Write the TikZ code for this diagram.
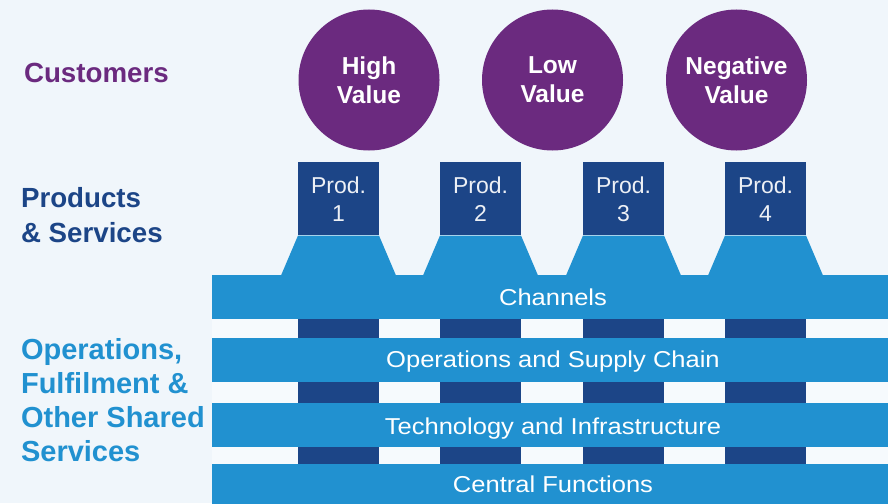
\documentclass[tikz,border=0pt]{standalone}
\usepackage{fontspec}
\setmainfont{Liberation Sans}
\newfontfamily\widefont[FakeStretch=1.11]{Liberation Sans}
\begin{document}
\begin{tikzpicture}[x=1pt,y=-1pt,
  circ/.style={circle,fill=purp,minimum size=141pt,inner sep=0pt,text=white,font=\fontsize{24.5}{29}\selectfont\bfseries,align=center},
  prodbox/.style={fill=dblue,draw=none,minimum width=81pt,minimum height=73pt,inner sep=0pt,anchor=north west},
  prodtxt/.style={text=white!92!dblue,font=\fontsize{23}{28}\selectfont,align=center,anchor=base},
  bar/.style={fill=lblue,draw=none,minimum width=676pt,inner sep=0pt,anchor=north west},
  bartxt/.style={text=white,font=\widefont\fontsize{23}{28}\selectfont,anchor=base},
  stripe/.style={fill=dblue},
  trap/.style={fill=lblue},
  lbl/.style={font=\fontsize{27.7}{34.5}\selectfont\bfseries,align=left,anchor=base west}
]
\definecolor{bgc}{HTML}{F0F6FB}
\definecolor{purp}{HTML}{6B2A7F}
\definecolor{dblue}{HTML}{1C4587}
\definecolor{lblue}{HTML}{2191D0}
\definecolor{gapc}{HTML}{F6FAFD}
\useasboundingbox (0,0) rectangle (888,503);
\fill[bgc] (0,0) rectangle (888,503);

% customer circles
\node[circ] (c1) at (369,80) {High\\Value};
\node[circ] (c2) at (552.5,80) {Low\\Value};
\node[circ] (c3) at (736.5,80) {Negative\\Value};

% gaps between bars
\fill[gapc] (212,319) rectangle (888,338);
\fill[gapc] (212,382) rectangle (888,403);
\fill[gapc] (212,447) rectangle (888,464);

% product columns (stripes + trapezoids + boxes)
\foreach \i/\x in {1/298,2/440,3/583,4/725}{
  \fill[stripe] (\x,310) rectangle ++(81,160);
  \fill[trap] (\x,235.5) -- ++(81,0) -- ++(17,40) -- ++(-115,0) -- cycle;
  \node[prodbox] (p\i) at (\x,162) {};
}
\foreach \i/\x in {1/338.5,2/480.5,3/623.5,4/765.5}{
  \node[prodtxt] (pt\i) at (\x,193) {Prod.};
  \node[prodtxt] (pn\i) at (\x,221) {\i};
}

% bars
\node[bar,minimum height=44pt] (ch) at (212,275) {};
\node[bar,minimum height=44pt] (ops) at (212,338) {};
\node[bar,minimum height=44pt] (tech) at (212,403) {};
\node[bar,minimum height=45pt] (cf) at (212,464) {};
\node[bartxt] (cht) at (553,305) {Channels};
\node[bartxt] (opst) at (553,367) {Operations and Supply Chain};
\node[bartxt] (techt) at (553,434) {Technology and Infrastructure};
\node[bartxt] (cft) at (553,492.5) {Central Functions};

% left labels
\node[lbl,text=purp] (lc) at (20.5,82) {Customers};
\node[lbl,text=dblue] (lp) at (17.5,242) {Products\\\& Services};
\node[lbl,text=lblue,font=\fontsize{29}{34}\selectfont\bfseries] (lo) at (17.5,461) {Operations,\\Fulfilment \&\\Other Shared\\Services};
\end{tikzpicture}
\end{document}
